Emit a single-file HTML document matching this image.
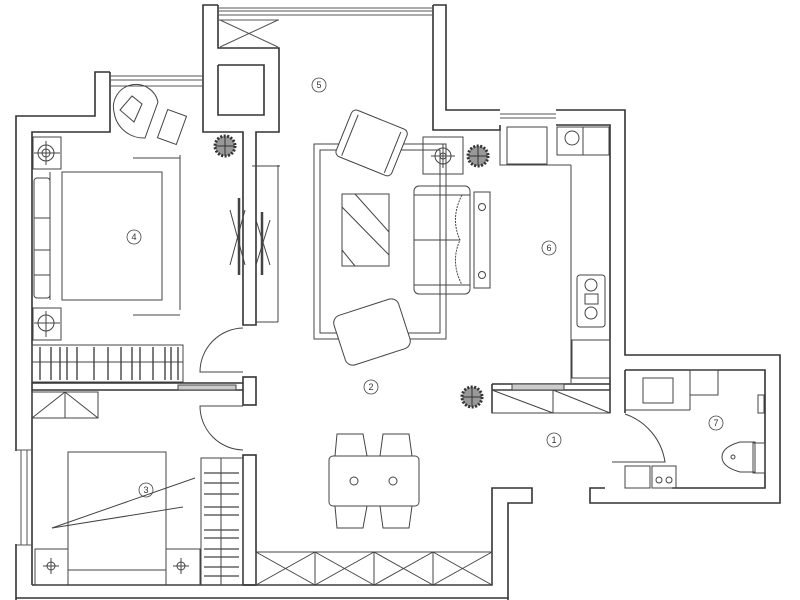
<!DOCTYPE html>
<html><head><meta charset="utf-8"><style>
html,body{margin:0;padding:0;background:#fff;width:800px;height:600px;overflow:hidden}
svg{display:block}
text{font-family:"Liberation Sans",sans-serif;font-size:9px;fill:#333}
</style></head><body>
<svg width="800" height="600" viewBox="0 0 800 600" xmlns="http://www.w3.org/2000/svg">
<g fill="none" stroke="#333" stroke-width="1.6">
<polyline points="16,600 16,116 95,116 95,72 110,72"/>
<polyline points="32,585 32,132 110,132 110,72"/>
<polyline points="203,72 203,5 218,5"/>
<polyline points="433,5 446,5 446,110 500,110"/>
<polyline points="433,5 433,130 500,130 500,125"/>
<polyline points="556,110 625,110 625,355 780,355 780,503 590,503 590,488 605,488"/>
<polyline points="556,125 610,125 610,413"/>
<polyline points="625,370 765,370 765,488 672,488"/>
<line x1="625" y1="370" x2="625" y2="413"/>
<polyline points="218,5 218,48 279,48 279,132 256,132 256,325 243,325 243,132 203,132 203,72"/>
<polyline points="218,65 264,65 264,115 218,115 218,65"/>
<polyline points="32,585 492,585 492,488 532,488 532,503 508,503 508,600"/>
<line x1="16" y1="598" x2="508" y2="598"/>
<polyline points="32,383 243,383"/>
<polyline points="32,390 243,390"/>
<rect x="243" y="377" width="13" height="28"/>
<rect x="243" y="455" width="13" height="130"/>
<polyline points="492,384 610,384"/>
<polyline points="492,390 610,390"/>
<line x1="492" y1="384" x2="492" y2="413"/>
</g>
<g stroke="#555" stroke-width="1" fill="none">
<line x1="218" y1="8" x2="433" y2="8"/><line x1="218" y1="11" x2="433" y2="11"/><line x1="218" y1="15" x2="433" y2="15"/>
<line x1="110" y1="76" x2="203" y2="76"/><line x1="110" y1="80" x2="203" y2="80"/><line x1="110" y1="86" x2="203" y2="86"/>
<line x1="500" y1="114" x2="556" y2="114"/><line x1="500" y1="118" x2="556" y2="118"/>
<line x1="16" y1="450" x2="32" y2="450"/><line x1="16" y1="545" x2="32" y2="545"/>
<line x1="21" y1="450" x2="21" y2="545"/><line x1="27" y1="450" x2="27" y2="545"/>
<line x1="218" y1="20" x2="279" y2="20"/>
<line x1="220" y1="20" x2="278" y2="47"/><line x1="278" y1="20" x2="220" y2="47"/>
</g>
<rect x="15" y="451" width="2" height="93" fill="#fff"/>
<g fill="none" stroke="#444" stroke-width="1">
<rect x="33" y="137" width="28" height="32"/><circle cx="46" cy="153" r="8"/><circle cx="46" cy="153" r="4"/><line x1="34" y1="153" x2="60" y2="153"/><line x1="46" y1="141" x2="46" y2="165"/>
<rect x="33" y="308" width="28" height="32"/><circle cx="46" cy="323" r="8"/><line x1="34" y1="323" x2="60" y2="323"/><line x1="46" y1="311" x2="46" y2="337"/>
<rect x="62" y="172" width="100" height="128"/>
<line x1="50" y1="172" x2="50" y2="300"/>
<rect x="34" y="178" width="16" height="120" rx="3"/>
<line x1="34" y1="218" x2="50" y2="218"/><line x1="34" y1="250" x2="50" y2="250"/><line x1="34" y1="275" x2="50" y2="275"/>
<line x1="133" y1="158" x2="180" y2="158"/><line x1="180" y1="155" x2="180" y2="310"/>
<line x1="133" y1="315" x2="180" y2="315"/>
<rect x="32" y="345" width="151" height="37"/>
<line x1="32" y1="362" x2="183" y2="362"/>
<g stroke-width="1.4">
<line x1="40" y1="347" x2="40" y2="380"/><line x1="51" y1="347" x2="51" y2="380"/><line x1="60" y1="347" x2="60" y2="380"/><line x1="67" y1="347" x2="67" y2="380"/><line x1="77" y1="347" x2="77" y2="380"/><line x1="94" y1="347" x2="94" y2="380"/><line x1="108" y1="347" x2="108" y2="380"/><line x1="121" y1="347" x2="121" y2="380"/><line x1="132" y1="347" x2="132" y2="380"/><line x1="140" y1="347" x2="140" y2="380"/><line x1="153" y1="347" x2="153" y2="380"/><line x1="165" y1="347" x2="165" y2="380"/><line x1="171" y1="347" x2="171" y2="380"/><line x1="178" y1="347" x2="178" y2="380"/>
</g>
<rect x="178" y="385" width="58" height="5" fill="#ccc"/>
<path d="M114,112 A20,20 0 0 1 158,102 L145,138 A30,30 0 0 1 114,112 Z"/>
<path d="M120,110 L132,96 L142,104 L134,122 Z"/>
<rect x="162" y="112" width="20" height="30" transform="rotate(20 172 127)"/>
<line x1="239" y1="198" x2="239" y2="275" stroke-width="2.5"/>
<line x1="262" y1="212" x2="262" y2="275" stroke-width="2.5"/>
<line x1="230" y1="210" x2="245" y2="265"/><line x1="245" y1="210" x2="230" y2="265"/>
<line x1="256" y1="220" x2="270" y2="265"/><line x1="270" y1="220" x2="256" y2="265"/>
<line x1="252" y1="166" x2="280" y2="166"/><line x1="278" y1="165" x2="278" y2="322"/><line x1="256" y1="322" x2="278" y2="322"/>
<path d="M243,328 A44,44 0 0 0 200,372 L243,372"/>
<path d="M243,450 A44,44 0 0 1 200,406 L243,406"/>
<path d="M625,414 A60,60 0 0 1 665,462 L612,462"/>
<rect x="32" y="392" width="66" height="26"/><line x1="32" y1="418" x2="65" y2="392"/><line x1="65" y1="392" x2="98" y2="418"/><line x1="65" y1="392" x2="65" y2="418"/>
<rect x="68" y="452" width="98" height="133"/>
<line x1="68" y1="570" x2="166" y2="570"/>
<rect x="35" y="549" width="33" height="36"/><rect x="166" y="549" width="34" height="36"/>
<circle cx="51" cy="566" r="4"/><circle cx="181" cy="566" r="4"/>
<line x1="43" y1="566" x2="59" y2="566"/><line x1="51" y1="558" x2="51" y2="574"/><line x1="173" y1="566" x2="189" y2="566"/><line x1="181" y1="558" x2="181" y2="574"/>
<line x1="52" y1="528" x2="195" y2="478"/><line x1="52" y1="528" x2="183" y2="507"/>
<rect x="201" y="458" width="42" height="127"/>
<line x1="221" y1="458" x2="221" y2="585"/>
<g stroke-width="1.3">
<line x1="204" y1="473" x2="239" y2="473"/><line x1="204" y1="483" x2="239" y2="483"/><line x1="204" y1="494" x2="239" y2="494"/><line x1="204" y1="507" x2="239" y2="507"/><line x1="204" y1="515" x2="239" y2="515"/><line x1="204" y1="530" x2="239" y2="530"/><line x1="204" y1="538" x2="239" y2="538"/><line x1="204" y1="549" x2="239" y2="549"/><line x1="204" y1="557" x2="239" y2="557"/><line x1="204" y1="567" x2="239" y2="567"/><line x1="204" y1="576" x2="239" y2="576"/>
</g>
<rect x="256" y="552" width="236" height="33"/>
<line x1="315" y1="552" x2="315" y2="585"/><line x1="374" y1="552" x2="374" y2="585"/><line x1="433" y1="552" x2="433" y2="585"/>
<line x1="256" y1="552" x2="315" y2="585"/><line x1="315" y1="552" x2="256" y2="585"/>
<line x1="315" y1="552" x2="374" y2="585"/><line x1="374" y1="552" x2="315" y2="585"/>
<line x1="374" y1="552" x2="433" y2="585"/><line x1="433" y1="552" x2="374" y2="585"/>
<line x1="433" y1="552" x2="492" y2="585"/><line x1="492" y1="552" x2="433" y2="585"/>
<rect x="314" y="144" width="132" height="195"/>
<rect x="320" y="150" width="120" height="183"/>
<rect x="342" y="194" width="47" height="72"/>
<line x1="355" y1="194" x2="389" y2="232"/><line x1="342" y1="207" x2="389" y2="255"/><line x1="342" y1="250" x2="355" y2="266"/>
<g transform="rotate(22 372 142)"><rect x="342" y="118" width="60" height="50" rx="5" fill="#fff"/><line x1="349" y1="122" x2="349" y2="166"/><line x1="395" y1="122" x2="395" y2="166"/></g>
<g transform="rotate(-18 372 332)"><rect x="338" y="306" width="68" height="52" rx="8" fill="#fff"/></g>
<rect x="423" y="137" width="40" height="37"/><circle cx="443" cy="156" r="8"/><circle cx="443" cy="156" r="3"/><line x1="431" y1="156" x2="455" y2="156"/><line x1="443" y1="144" x2="443" y2="168"/>
<rect x="414" y="186" width="56" height="108" rx="5"/>
<line x1="414" y1="195" x2="470" y2="195"/><line x1="414" y1="285" x2="470" y2="285"/><line x1="414" y1="240" x2="460" y2="240"/>
<path d="M462,195 Q450,218 460,240 Q450,262 462,285" stroke-dasharray="2,1"/>
<rect x="474" y="192" width="16" height="96"/>
<circle cx="482" cy="207" r="3.5"/><circle cx="482" cy="275" r="3.5"/>
<rect x="329" y="456" width="90" height="50" rx="4"/>
<circle cx="354" cy="481" r="4"/><circle cx="393" cy="481" r="4"/>
<path d="M337,434 L363,434 L367,456 L335,456 Z"/><path d="M383,434 L409,434 L412,456 L380,456 Z"/>
<path d="M335,506 L367,506 L363,528 L337,528 Z"/><path d="M380,506 L412,506 L409,528 L383,528 Z"/>
<line x1="571" y1="165" x2="571" y2="383"/>
<polyline points="500,130 500,165 571,165"/>
<rect x="507" y="127" width="40" height="37"/>
<rect x="557" y="127" width="26" height="28"/><circle cx="572" cy="138" r="7"/>
<rect x="583" y="127" width="26" height="28"/>
<rect x="577" y="275" width="28" height="52" rx="3"/>
<circle cx="591" cy="285" r="6"/><circle cx="591" cy="313" r="6"/><rect x="585" y="294" width="13" height="10"/>
<rect x="572" y="340" width="38" height="38"/>
<rect x="492" y="390" width="118" height="23"/>
<line x1="492" y1="390" x2="553" y2="413"/><line x1="553" y1="390" x2="553" y2="413"/><line x1="553" y1="390" x2="610" y2="413"/>
<rect x="512" y="384" width="52" height="6" fill="#ccc"/>
<rect x="643" y="378" width="30" height="25"/>
<rect x="690" y="370" width="28" height="25"/>
<line x1="625" y1="410" x2="690" y2="410"/><line x1="690" y1="370" x2="690" y2="410"/>
<path d="M755,442 L740,442 Q722,447 722,457 Q722,467 740,472 L755,472 Z"/>
<rect x="753" y="443" width="12" height="30"/>
<circle cx="733" cy="457" r="2"/>
<rect x="625" y="466" width="25" height="22"/><rect x="652" y="466" width="24" height="22"/>
<circle cx="659" cy="480" r="3"/><circle cx="669" cy="480" r="3"/>
<rect x="758" y="395" width="6" height="18"/>
</g>
<g fill="#999" stroke="#333" stroke-width="3" stroke-dasharray="2,1.5">
<circle cx="225" cy="146" r="10"/><circle cx="478" cy="156" r="10"/><circle cx="472" cy="397" r="10"/>
</g>
<g stroke="#333" stroke-width="1">
<line x1="216" y1="146" x2="234" y2="146"/><line x1="225" y1="137" x2="225" y2="155"/>
<line x1="469" y1="156" x2="487" y2="156"/><line x1="478" y1="147" x2="478" y2="165"/>
<line x1="463" y1="397" x2="481" y2="397"/><line x1="472" y1="388" x2="472" y2="406"/>
</g>
<g fill="none" stroke="#444" stroke-width="0.8">
<circle cx="319" cy="85" r="7"/><circle cx="134" cy="237" r="7"/><circle cx="549" cy="248" r="7"/>
<circle cx="371" cy="387" r="7"/><circle cx="146" cy="490" r="7"/><circle cx="554" cy="440" r="7"/><circle cx="716" cy="423" r="7"/>
</g>
<g text-anchor="middle">
<text x="319" y="88">5</text><text x="134" y="240">4</text><text x="549" y="251">6</text>
<text x="371" y="390">2</text><text x="146" y="493">3</text><text x="554" y="443">1</text><text x="716" y="426">7</text>
</g>
</svg>
</body></html>
